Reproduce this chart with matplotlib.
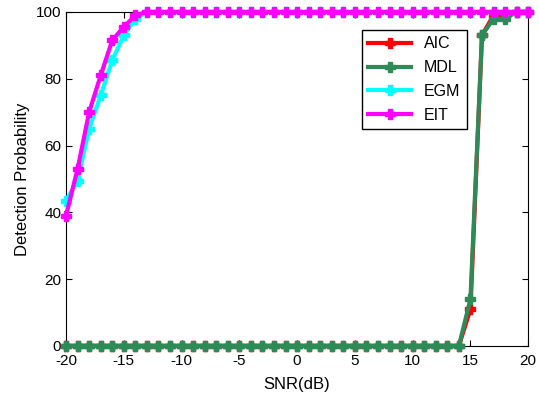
import numpy as np
import matplotlib
matplotlib.use("Agg")
import matplotlib.pyplot as plt

plt.rcParams['font.family'] = ['Liberation Sans', 'DejaVu Sans']
plt.rcParams['axes.unicode_minus'] = False

snr = list(range(-20, 21))
aic = [0] * 35 + [11, 93, 99, 99, 100, 100]
mdl = [0] * 35 + [14, 93, 98, 98, 100, 100]
egm = [43.5, 49.5, 65, 75, 85.5, 93, 98] + [100] * 34
eit = [39, 53, 70, 81, 91.5, 95.5, 99] + [100] * 34

fig = plt.figure(figsize=(5.39, 3.98), dpi=100)
ax = fig.add_axes([0.1225, 0.131, 0.8575, 0.839])

series = [("AIC", aic, "red"), ("MDL", mdl, "#2E8B57"),
          ("EGM", egm, "cyan"), ("EIT", eit, "magenta")]
for name, vals, col in series:
    ax.plot(snr, vals, color=col, lw=3, marker="P", ms=7, label=name,
            clip_on=False, zorder=3)

ax.set_xlim(-20, 20)
ax.set_ylim(0, 100)
ax.set_xticks(range(-20, 21, 5))
ax.set_yticks(range(0, 101, 20))
ax.tick_params(direction="in", top=True, right=True, labelsize=11, length=4)
ax.tick_params(axis="x", pad=6)
ax.set_xlabel("SNR(dB)", fontsize=12, labelpad=6)
ax.set_ylabel("Detection Probability", fontsize=12)

leg = ax.legend(loc="upper left", bbox_to_anchor=(0.64, 0.946), fontsize=11.5,
                fancybox=False, edgecolor="black", framealpha=1,
                handlelength=2.7, labelspacing=0.55, borderaxespad=0)
leg.get_frame().set_linewidth(1)
leg.set_zorder(5)

fig.savefig("out.png", dpi=100)
